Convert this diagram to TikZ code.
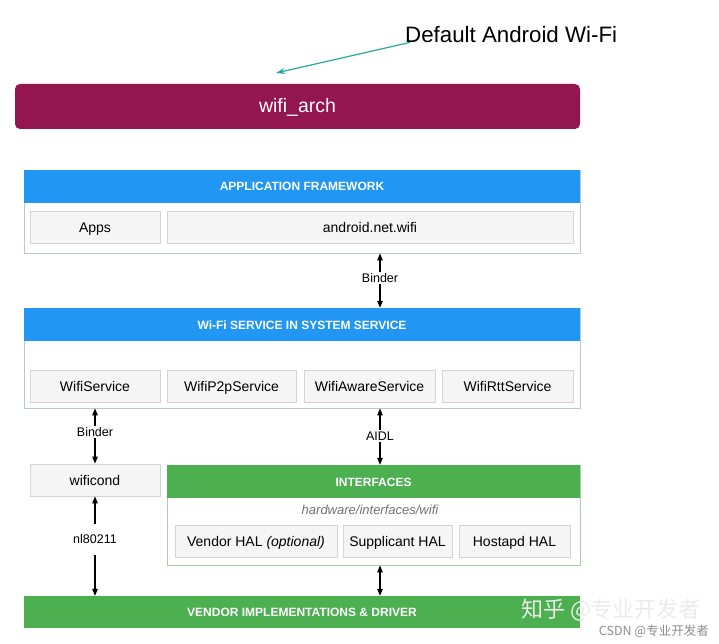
\documentclass[tikz,border=0pt]{standalone}
\usepackage{fontspec}
\setmainfont{Liberation Sans}
\newfontfamily\cjk{Noto Sans CJK SC}
\usetikzlibrary{arrows.meta}
\definecolor{maroon}{HTML}{941651}
\definecolor{hblue}{HTML}{2196F3}
\definecolor{hgreen}{HTML}{4CAF50}
\definecolor{teal2}{HTML}{26A6A6}
\definecolor{boxfill}{HTML}{F5F5F5}
\definecolor{boxline}{HTML}{D4D4D4}
\definecolor{contline}{HTML}{B8C8D8}
\definecolor{greenline}{HTML}{A8CFA8}
\tikzset{
  cell/.style={draw=boxline, fill=boxfill, line width=0.8pt, inner sep=0pt,
    minimum height=32pt, text height=12pt, text depth=1.5pt, font=\fontsize{14}{16}\selectfont},
  container/.style={draw=contline, fill=white, line width=0.8pt, inner sep=0pt},
  header/.style={inner sep=0pt, minimum height=33pt, text=white, text height=9pt, text depth=0pt,
    font=\bfseries\fontsize{12}{14}\selectfont},
  lbl/.style={inner sep=1.5pt, font=\fontsize{12.5}{14}\selectfont},
  arr/.style={-{Triangle[length=7pt,width=5.5pt]}, line width=1.1pt, black},
}
\begin{document}
\begin{tikzpicture}[x=1pt,y=-1pt]
\useasboundingbox (0,0) rectangle (719,644);

% title
\node[anchor=base west, inner sep=0pt, font=\fontsize{22.3}{26}\selectfont] (title) at (405,43) {Default Android Wi-Fi};
\coordinate (tip) at (276,73);
\draw[teal2, line width=1.2pt, -{Stealth[length=9pt,width=6pt]}] (title.south west) ++(5,-1) coordinate (tstart) -- (tip);

% wifi_arch
\node[fill=maroon, rounded corners=5pt, minimum width=565pt, minimum height=45pt, inner sep=0pt,
  text height=15pt, text depth=2pt,
  text=white, font=\fontsize{19.5}{22}\selectfont] (arch) at (297.5,106.5) {wifi\_arch};

% application framework
\node[container, minimum width=556pt, minimum height=83pt] (appfw) at (302,211.5) {};
\node[header, fill=hblue, minimum width=556pt] (appfwh) at (302,186.5) {APPLICATION FRAMEWORK};
\node[cell, minimum width=130pt] (apps) at (95,227.5) {Apps};
\node[cell, minimum width=406pt] (anw) at (370,227.5) {android.net.wifi};

% binder 1
\node[lbl] (b1) at (380,278) {Binder};
\draw[arr] (b1.north) -- (appfw.south -| b1);

% wifi service
\node[container, minimum width=556pt, minimum height=100pt] (svc) at (302,358) {};
\node[header, fill=hblue, minimum width=556pt] (svch) at (302,324.5) {Wi-Fi SERVICE IN SYSTEM SERVICE};
\draw[arr] (b1.south) -- (svch.north -| b1);
\node[cell, minimum width=130pt] (ws) at (95,386) {WifiService};
\node[cell, minimum width=129pt] (wp) at (231.5,386) {WifiP2pService};
\node[cell, minimum width=131pt] (wa) at (369.5,386) {WifiAwareService};
\node[cell, minimum width=131pt] (wr) at (507.5,386) {WifiRttService};

% binder 2
\node[lbl] (b2) at (95,432) {Binder};
\node[cell, minimum width=130pt] (wc) at (95,480) {wificond};
\draw[arr] (b2.north) -- (svc.south -| b2);
\draw[arr] (b2.south) -- (wc.north);

% interfaces
\node[container, draw=greenline, minimum width=413pt, minimum height=100pt] (intf) at (373.5,515) {};
\node[header, fill=hgreen, minimum width=413pt] (intfh) at (373.5,481.5) {INTERFACES};
\node[inner sep=0pt, text=black!55, font=\itshape\fontsize{13}{15}\selectfont] (hwpath) at (370,510) {hardware/interfaces/wifi};
\node[cell, minimum width=162pt] (vhal) at (256,541) {Vendor HAL \textit{(optional)}};
\node[cell, minimum width=109pt] (shal) at (397.5,541) {Supplicant HAL};
\node[cell, minimum width=111pt] (hhal) at (514.5,541) {Hostapd HAL};

% AIDL
\node[lbl] (aidl) at (380,436) {AIDL};
\draw[arr] (aidl.north) -- (svc.south -| aidl);
\draw[arr] (aidl.south) -- (intfh.north -| aidl);

% vendor
\node[header, fill=hgreen, minimum width=556pt, minimum height=32pt] (vend) at (302,612) {VENDOR IMPLEMENTATIONS \& DRIVER};
\draw[{Triangle[length=7pt,width=5.5pt]}-{Triangle[length=7pt,width=5.5pt]}, line width=1.1pt] (intf.south -| aidl) -- (vend.north -| aidl);

% nl80211
\node[lbl, inner sep=0pt] (nl) at (95,539) {nl80211};
\draw[arr] (nl.north) ++(0,-10) coordinate (nla) -- (wc.south);
\draw[arr] (nl.south) ++(0,11) coordinate (nlb) -- (vend.north -| nl);

% watermarks
\node[anchor=west, inner sep=0pt, text=white!92!black, font=\cjk\fontsize{22}{25}\selectfont] (wm1) at (521,610) {知乎 @专业开发者};
\node[anchor=east, inner sep=0pt, text=black!45, font=\cjk\fontsize{12.5}{14}\selectfont] (wm2) at (709,631) {CSDN @专业开发者};
\end{tikzpicture}
\end{document}
